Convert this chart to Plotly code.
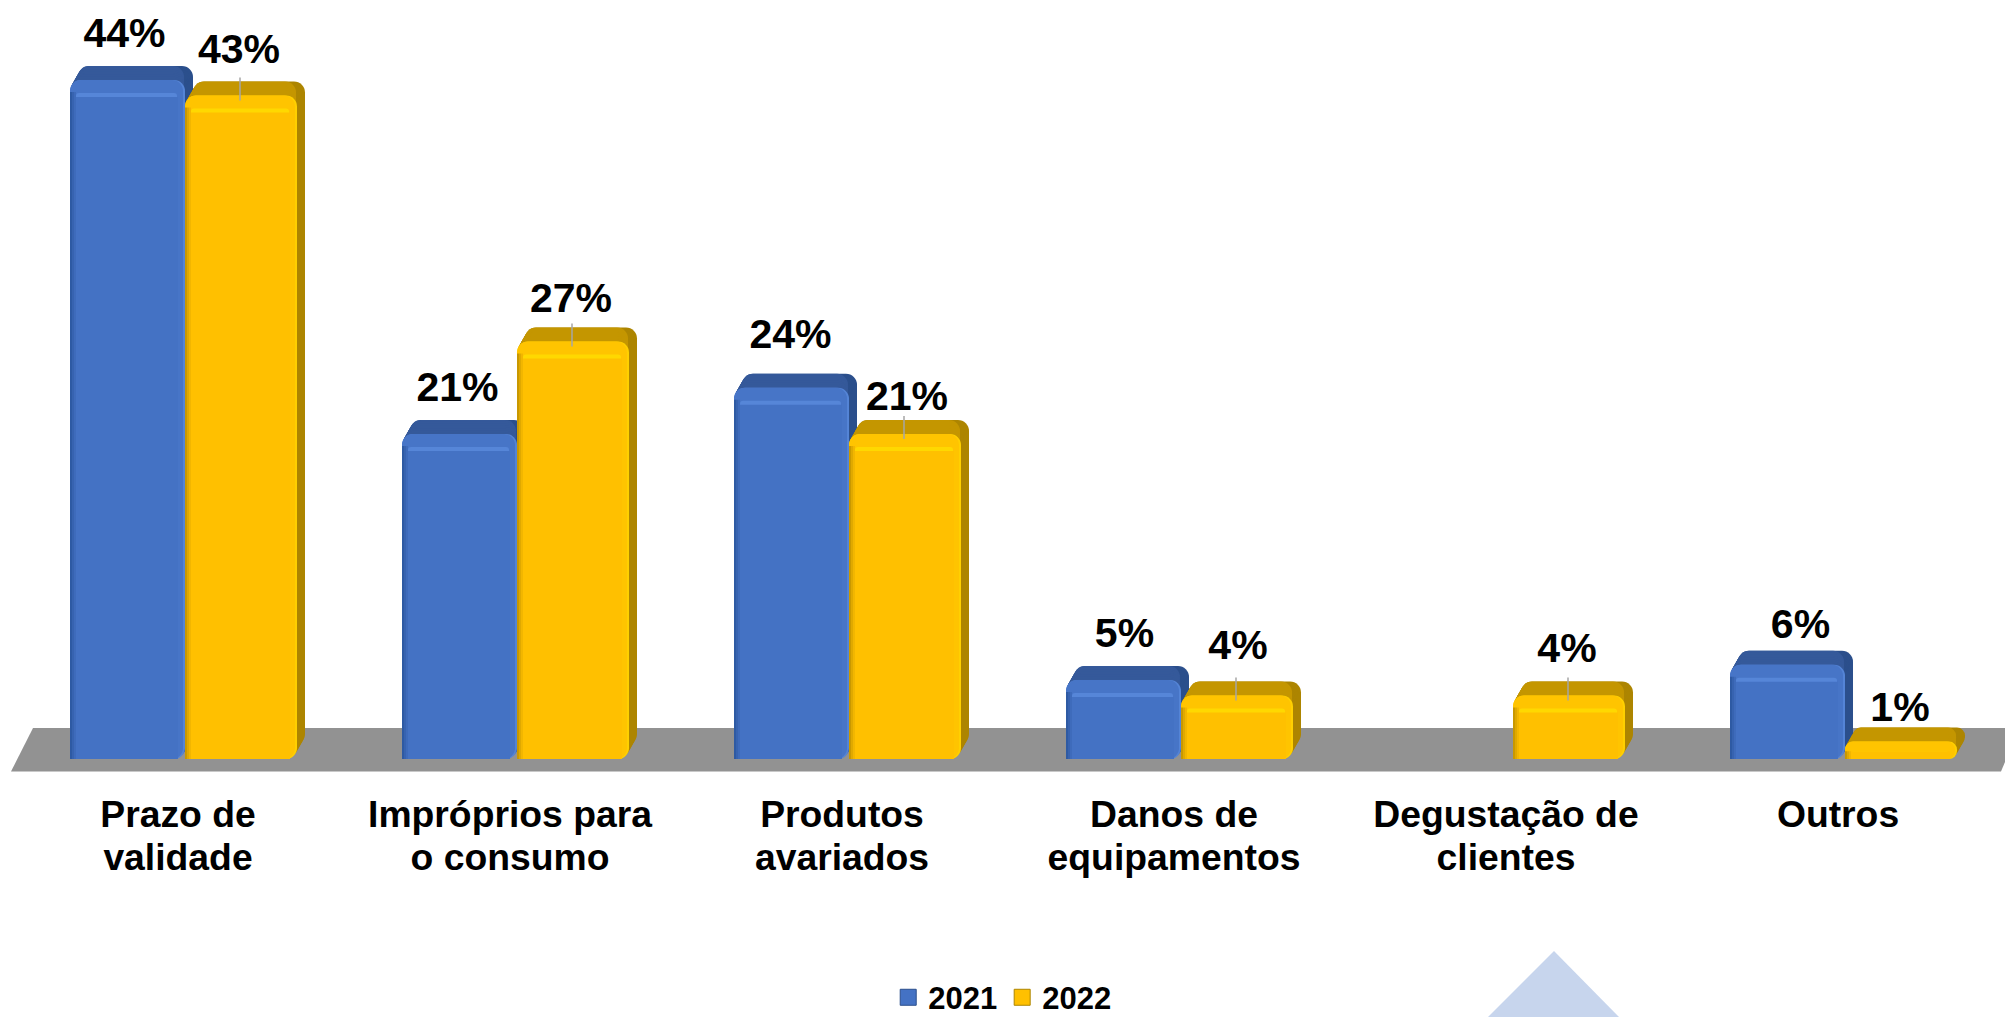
import plotly.graph_objects as go

# ---- data ----
categories_line1 = ["Prazo de", "Impróprios para", "Produtos", "Danos de", "Degustação de", "Outros"]
categories_line2 = ["validade", "o consumo", "avariados", "equipamentos", "clientes", ""]
values_2021 = [44, 21, 24, 5, None, 6]
values_2022 = [43, 27, 21, 4, 4, 1]
series_names = ["2021", "2022"]

# ---- layout constants ----
W, H = 2005, 1017
BASE_PX = 759           # pixel row of value 0
PX_PER_UNIT = 15.385    # pixels per percentage point
FOOT_PX = 2             # the bevel lifts every bar top by this much
CAT_PX = 332            # pixels per category
CAT0_PX = 178           # pixel column of the first category
DX, DY = 8, 14          # depth of the extrusion
RADIUS = 11
ux = lambda px: px / CAT_PX
uy = lambda px: px / PX_PER_UNIT
xs = list(range(len(categories_line1)))

STYLE = {
    "2021": dict(left=-108, width=115, top="#35599A", side="#2B4F8C", face="#4775C7", glow="#5686D8",
                 main="#4472C4", edge=["#2E5AA3", "#3763B0", "#3E6BBB"], right="#5484D6"),
    "2022": dict(left=7, width=112, top="#C49600", side="#AD8500", face="#FFC400", glow="#FFD800",
                 main="#FFC000", edge=["#C99800", "#E0A900", "#F2B600"], right="#FFD000"),
}
# placement of each data label relative to its bar front, in pixels
label_lift_2021 = [45, 45, 52, 45, None, 39]
label_lift_2022 = [45, 42, 36, 49, 46, 33]
label_shift_2021 = [-1, 0, 1, 3, None, 15]
label_shift_2022 = [0, 0, 4, 3, 0, 1]
leader_flags_2022 = [True, True, True, True, True, False]

fig = go.Figure()


def layer(vals, left_px, width_px, color, shift_up_px=0, trim_top_px=0, radius=0):
    """One slab of a bar: x and height always come from the data."""
    present = [(x, v) for x, v in zip(xs, vals) if v is not None]
    heights = []
    for _, v in present:
        h = v * PX_PER_UNIT + FOOT_PX
        trim = min(trim_top_px, h * 0.55)
        heights.append(uy(h - trim))
    fig.add_trace(go.Bar(
        x=[p[0] for p in present], y=heights,
        base=uy(shift_up_px), offset=ux(left_px), width=ux(width_px),
        marker=dict(color=color, line=dict(width=0), cornerradius=radius),
        showlegend=False, hoverinfo="skip",
    ))


for name, vals in zip(series_names, [values_2021, values_2022]):
    s = STYLE[name]
    l, w = s["left"], s["width"]
    # right side wall, back to front
    for k in range(DX, 0, -1):
        layer(vals, l + k, w, s["side"], shift_up_px=k * DY / DX, radius=RADIUS)
    # top face, stops at the right edge of the front
    for k in range(DX, 0, -1):
        layer(vals, l + k, w - k - 1, s["top"], shift_up_px=k * DY / DX, radius=RADIUS)
    # front face and its bevel
    layer(vals, l, w, s["right"], radius=RADIUS)
    layer(vals, l, w - 2, s["face"], radius=RADIUS)
    layer(vals, l + 6, w - 14, s["glow"], trim_top_px=13, radius=3)
    layer(vals, l, w - 7, s["main"], trim_top_px=17)
    for j, c in enumerate(s["edge"]):
        layer(vals, l + j * 2, 2, c, trim_top_px=12)

# grey leader lines of the 2022 labels
lx, ly = [], []
for x, v, flag in zip(xs, values_2022, leader_flags_2022):
    if flag:
        cx = x + ux(STYLE["2022"]["left"] + STYLE["2022"]["width"] / 2 - 1)
        lx += [cx, cx, None]
        ly += [v - uy(3), v + uy(20), None]
fig.add_trace(go.Scatter(x=lx, y=ly, mode="lines", line=dict(color="#A6A6A6", width=1.5),
                         showlegend=False, hoverinfo="skip"))

# data labels
for name, vals, lifts, shifts in zip(series_names, [values_2021, values_2022],
                                     [label_lift_2021, label_lift_2022],
                                     [label_shift_2021, label_shift_2022]):
    s = STYLE[name]
    rows = [(x, v, p, q) for x, v, p, q in zip(xs, vals, lifts, shifts) if v is not None]
    fig.add_trace(go.Scatter(
        x=[r[0] + ux(s["left"] + s["width"] / 2 - 2 + r[3]) for r in rows],
        y=[r[1] + uy(r[2]) for r in rows],
        text=[f"{r[1]}%" for r in rows],
        mode="text", textposition="middle center",
        textfont=dict(family="Liberation Sans", size=41, color="#000000", weight="bold"),
        showlegend=False, hoverinfo="skip",
    ))

# legend entries
for name in series_names:
    fig.add_trace(go.Scatter(
        x=[None], y=[None], mode="markers", name=name,
        marker=dict(symbol="square", size=16, color=STYLE[name]["main"],
                    line=dict(width=1, color=STYLE[name]["side"])),
    ))
# carrier of the second line of the category labels
fig.add_trace(go.Scatter(x=[None], y=[None], xaxis="x2", yaxis="y", showlegend=False, hoverinfo="skip"))

x_range = [(0 - CAT0_PX) / CAT_PX, (W - CAT0_PX) / CAT_PX]
tick_font = dict(family="Liberation Sans", size=37.3, color="#000000", weight="bold")
base_axis = dict(range=x_range, domain=[0, 1], tickmode="array", tickvals=xs, showgrid=False,
                 zeroline=False, showline=False, ticks="", tickfont=tick_font, anchor="free",
                 position=(H - BASE_PX) / H, tickangle=0)


def px_to_path(points):
    return "M" + " L".join(f"{x / W:.5f},{1 - y / H:.5f}" for x, y in points) + " Z"


fig.update_layout(
    width=W, height=H, autosize=False,
    margin=dict(l=0, r=0, t=0, b=0, pad=0, autoexpand=False),
    paper_bgcolor="#FFFFFF", plot_bgcolor="rgba(0,0,0,0)",
    barmode="overlay",
    xaxis=dict(**base_axis, ticktext=categories_line1, ticklabelstandoff=30),
    xaxis2=dict(**base_axis, ticktext=categories_line2, ticklabelstandoff=73, overlaying="x"),
    yaxis=dict(range=[(BASE_PX - H) / PX_PER_UNIT, BASE_PX / PX_PER_UNIT], domain=[0, 1],
               visible=False, fixedrange=True),
    legend=dict(orientation="h", x=0.443, y=-0.0075, xanchor="left", yanchor="bottom",
                font=dict(family="Liberation Sans", size=31, color="#000000", weight="bold"),
                bgcolor="rgba(0,0,0,0)", itemwidth=30, tracegroupgap=0),
    shapes=[
        dict(type="path", xref="paper", yref="paper", layer="below", line=dict(width=0),
             fillcolor="#929292",
             path=px_to_path([(11, 771.5), (33, 728), (2005, 728), (2005, 762), (2001, 771.5)])),
        dict(type="path", xref="paper", yref="paper", layer="below", line=dict(width=0),
             fillcolor="#C7D5ED",
             path=px_to_path([(1488, 1017), (1554, 951), (1619, 1017)])),
    ],
)

fig.write_html(
    "out.html",
    config={"displayModeBar": False},
    post_script="document.documentElement.style.margin='0';document.body.style.margin='0';"
                "document.body.style.overflow='hidden';",
)
